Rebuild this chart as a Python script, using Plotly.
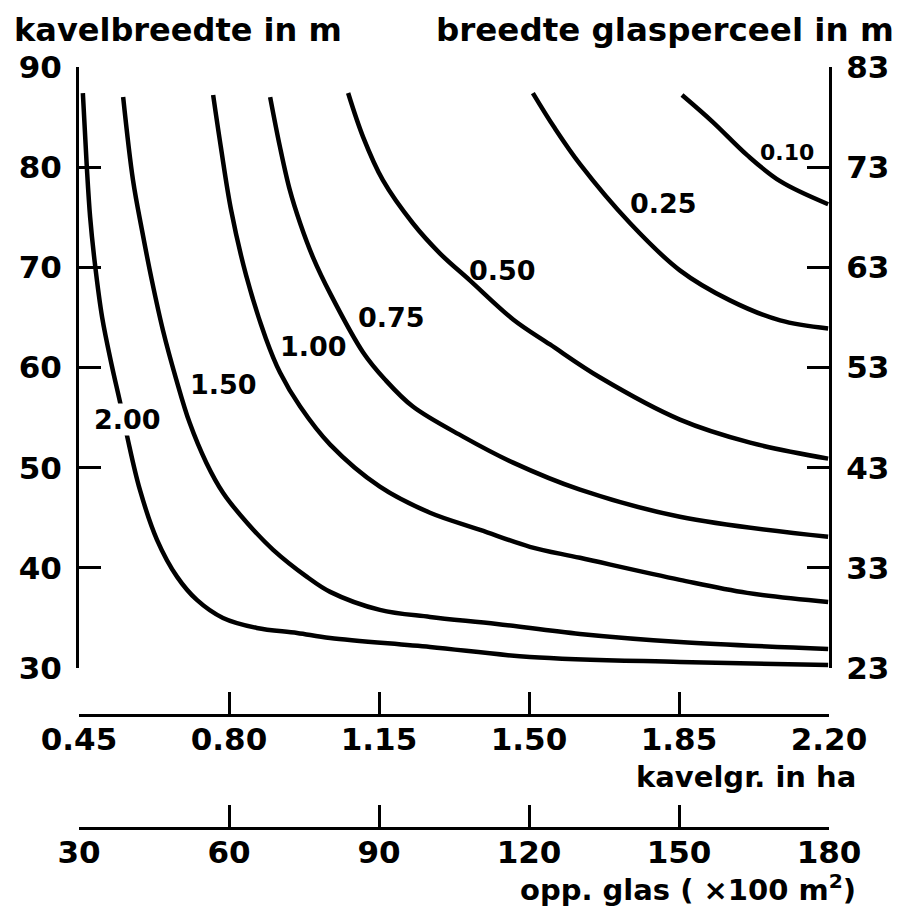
import plotly.graph_objects as go

# Curve data: x = kavelgrootte (ha), y = kavelbreedte (m)
curve_names = ["2.00", "1.50", "1.00", "0.75", "0.50", "0.25", "0.10"]

c200_x = [0.459, 0.468, 0.476, 0.487, 0.504, 0.527, 0.546, 0.563, 0.592, 0.632, 0.679, 0.725, 0.786, 0.865, 0.959, 1.036, 1.269, 1.502, 1.852, 2.198]
c200_y = [87.4, 80.2, 75.0, 70.4, 65.0, 60.1, 56.5, 53.0, 47.8, 42.8, 39.1, 36.8, 35.0, 34.0, 33.5, 33.0, 32.1, 31.1, 30.6, 30.3]

c150_x = [0.553, 0.576, 0.597, 0.620, 0.646, 0.677, 0.708, 0.747, 0.786, 0.842, 0.903, 0.982, 1.036, 1.152, 1.269, 1.425, 1.619, 1.852, 2.198]
c150_y = [87.0, 78.7, 73.7, 68.7, 63.7, 58.8, 54.5, 50.5, 47.5, 44.5, 41.8, 39.1, 37.6, 35.8, 35.1, 34.4, 33.4, 32.6, 31.9]

c100_x = [0.763, 0.781, 0.805, 0.840, 0.886, 0.919, 0.966, 1.036, 1.152, 1.269, 1.386, 1.502, 1.619, 1.852, 2.009, 2.198]
c100_y = [87.2, 82.0, 75.7, 69.2, 62.9, 59.5, 56.1, 52.3, 48.1, 45.5, 43.8, 42.1, 41.0, 38.8, 37.5, 36.6]

c075_x = [0.896, 0.919, 0.942, 0.966, 0.996, 1.036, 1.113, 1.164, 1.229, 1.346, 1.463, 1.619, 1.852, 2.198]
c075_y = [87.0, 82.0, 77.7, 74.4, 71.0, 67.4, 61.5, 58.8, 56.1, 53.1, 50.5, 47.8, 45.1, 43.1]

c050_x = [1.078, 1.113, 1.159, 1.229, 1.292, 1.362, 1.463, 1.549, 1.666, 1.852, 2.016, 2.198]
c050_y = [87.4, 83.0, 78.7, 74.4, 71.4, 68.7, 64.8, 62.3, 59.0, 54.8, 52.5, 50.9]

c025_x = [1.509, 1.560, 1.619, 1.736, 1.852, 1.969, 2.086, 2.198]
c025_y = [87.4, 83.9, 80.3, 74.4, 69.7, 66.7, 64.7, 63.9]

c010_x = [1.857, 1.929, 2.009, 2.086, 2.198]
c010_y = [87.2, 84.5, 81.2, 78.6, 76.3]

curves_x = [c200_x, c150_x, c100_x, c075_x, c050_x, c025_x, c010_x]
curves_y = [c200_y, c150_y, c100_y, c075_y, c050_y, c025_y, c010_y]

# Curve label positions (data coords)
label_x = [0.562, 0.786, 0.996, 1.180, 1.437, 1.813, 2.102]
label_y = [54.8, 58.3, 62.1, 65.0, 69.7, 76.4, 81.5]

# Axis ticks
y_left_ticks = [30, 40, 50, 60, 70, 80, 90]
y_right_ticks = [23, 33, 43, 53, 63, 73, 83]
x_ha_ticks = [0.45, 0.80, 1.15, 1.50, 1.85, 2.20]
x_ha_text = ["0.45", "0.80", "1.15", "1.50", "1.85", "2.20"]
x_glas_ticks = [30, 60, 90, 120, 150, 180]

FONT = "DejaVu Sans"
OFF = 8  # page body margin
W, H = 895, 906
ml, mr, mt, mb = 71, 74, 59, 86
ph = H - mt - mb
pw = W - ml - mr

def py(y_ref):
    return (H - mb - (y_ref - OFF)) / ph

def pxx(x_ref):
    return (x_ref - OFF - ml) / pw

fig = go.Figure()
for cx, cy in zip(curves_x, curves_y):
    fig.add_trace(go.Scatter(x=cx, y=cy, mode="lines",
                             line=dict(color="black", width=4.5, shape="spline", smoothing=1.0),
                             showlegend=False, hoverinfo="skip"))
# invisible trace to activate secondary axes
fig.add_trace(go.Scatter(x=[x_glas_ticks[0]], y=[y_right_ticks[0]], xaxis="x2", yaxis="y2",
                         mode="markers", marker=dict(opacity=0), showlegend=False, hoverinfo="skip"))

annotations = []
for name, lx, ly in zip(curve_names, label_x, label_y):
    annotations.append(dict(x=lx, y=ly, xref="x", yref="y", text=name, showarrow=False,
                            font=dict(family=FONT, size=22 if name == "0.10" else 27, color="black", weight="bold"),
                            bgcolor="white" if name == "2.00" else None, borderpad=0))

annotations += [
    dict(x=pxx(12), y=py(30), xref="paper", yref="paper", text="kavelbreedte in m",
         xanchor="left", yanchor="middle", showarrow=False,
         font=dict(family=FONT, size=32, color="black", weight="bold")),
    dict(x=pxx(896), y=py(30), xref="paper", yref="paper", text="breedte glasperceel in m",
         xanchor="right", yanchor="middle", showarrow=False,
         font=dict(family=FONT, size=32.5, color="black", weight="bold")),
    dict(x=pxx(858), y=py(777), xref="paper", yref="paper", text="kavelgr. in ha",
         xanchor="right", yanchor="middle", showarrow=False,
         font=dict(family=FONT, size=29, color="black", weight="bold")),
    dict(x=pxx(858), y=py(888), xref="paper", yref="paper", text="opp. glas ( ×100 m<sup>2</sup>)",
         xanchor="right", yanchor="middle", showarrow=False,
         font=dict(family=FONT, size=29, color="black", weight="bold")),
]

tickfont = dict(family=FONT, size=31, color="black", weight="bold")
common = dict(showline=True, linecolor="black", linewidth=3, ticks="inside", ticklen=22,
              tickwidth=3, tickcolor="black", showgrid=False, zeroline=False, tickfont=tickfont)

fig.update_layout(
    width=W, height=H,
    margin=dict(l=ml, r=mr, t=mt, b=mb, autoexpand=False),
    paper_bgcolor="white", plot_bgcolor="white",
    showlegend=False,
    xaxis=dict(range=[0.45, 2.20], tickvals=x_ha_ticks, ticktext=x_ha_text,
               anchor="free", position=py(715), domain=[0, 1], ticklabelstandoff=-4, **common),
    xaxis2=dict(range=[30, 180], tickvals=x_glas_ticks, overlaying="x",
                anchor="free", position=0, side="bottom", ticklabelstandoff=-4, **common),
    yaxis=dict(range=[30, 90], tickvals=y_left_ticks, domain=[py(668), 1], anchor="x",
               ticklabelstandoff=8, **common),
    yaxis2=dict(range=[23, 83], tickvals=y_right_ticks, overlaying="y", side="right",
                anchor="x", ticklabelstandoff=8, **common),
    annotations=annotations,
)

fig.write_html("out.html")
